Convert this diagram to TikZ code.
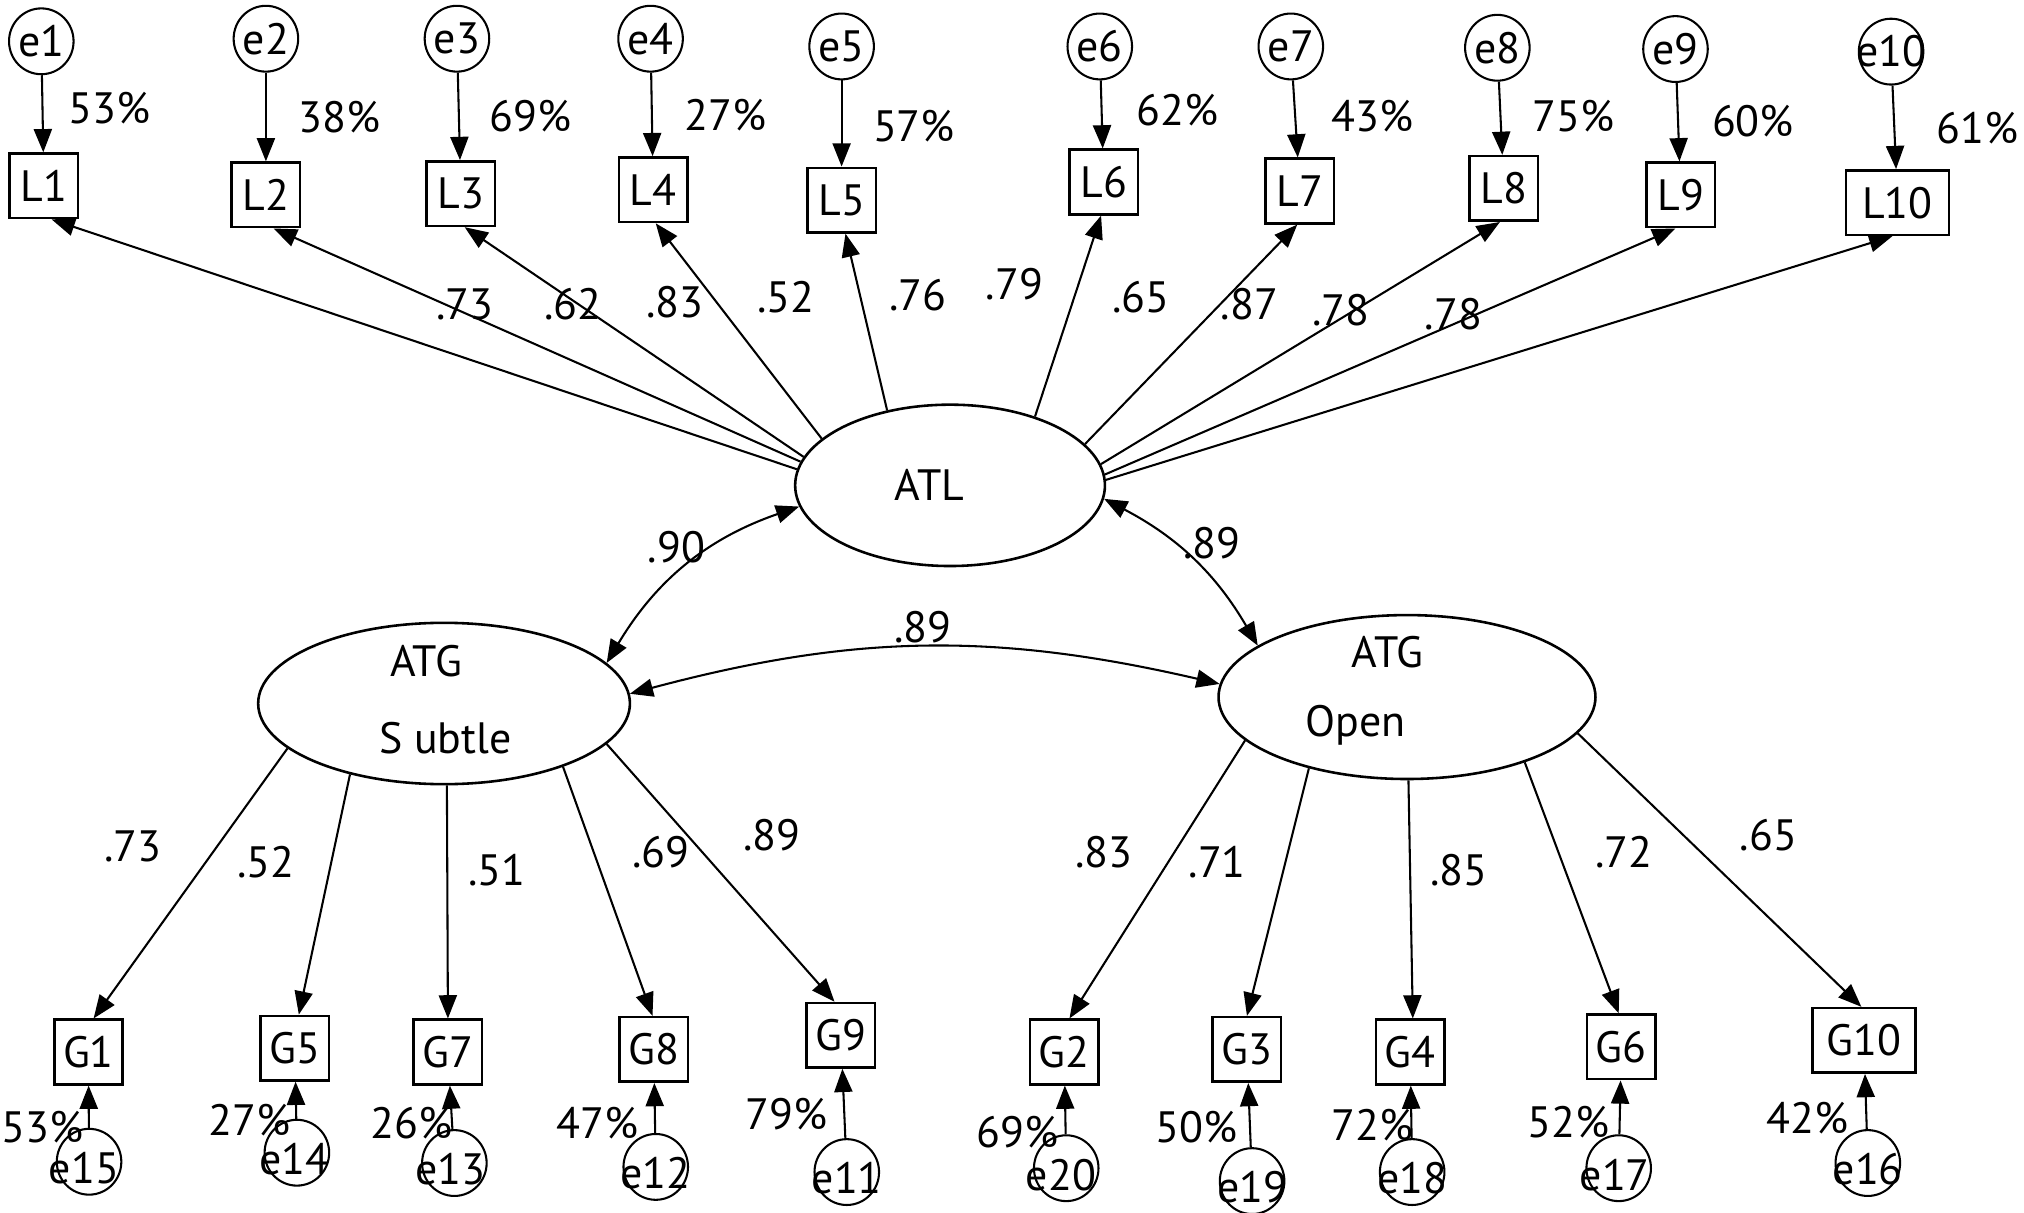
\documentclass[tikz,border=0pt]{standalone}
\usepackage{fontspec}
\setmainfont{PT Sans}
\usetikzlibrary{shapes.geometric,arrows.meta}
\tikzset{
 every node/.style={font=\fontsize{34}{40}\selectfont},
 obs/.style={draw, line width=2pt, minimum width=53pt, minimum height=50pt, inner sep=0pt},
 obsw/.style={obs, minimum width=80pt},
 err/.style={draw, ellipse, line width=1.6pt, minimum width=50pt, minimum height=51pt, inner sep=0pt},
 lat/.style={draw, ellipse, line width=2pt, inner sep=0pt},
 txt/.style={inner sep=0pt},
 arr/.style={line width=1.6pt, -{Triangle[length=18pt,width=14pt]}},
 dbl/.style={line width=1.6pt, {Triangle[length=18pt,width=14pt]}-{Triangle[length=18pt,width=14pt]}},
}
\begin{document}
\begin{tikzpicture}[x=1pt,y=1pt]
\fill[white] (0,0) rectangle (1568,-939);
\useasboundingbox (0,0) rectangle (1568,-939);

% latent variables
\node[lat, minimum width=240pt, minimum height=125pt] (ATL) at (736,-376) {};
\node[txt] (ATLt) at (720,-376) {ATL};
\node[lat, minimum width=288pt, minimum height=125pt] (Sub) at (344,-545) {};
\node[txt] (Subt1) at (330,-512) {ATG};
\node[txt] (Subt2) at (345,-572) {S ubtle};
\node[lat, minimum width=292pt, minimum height=127pt] (Open) at (1090,-540) {};
\node[txt] (Opent1) at (1075,-505) {ATG};
\node[txt] (Opent2) at (1050,-562) {Open};

% top observed
\node[obs] (L1) at (34,-144) {L1};
\node[obs] (L2) at (206,-151) {L2};
\node[obs] (L3) at (357,-150) {L3};
\node[obs] (L4) at (506,-147) {L4};
\node[obs] (L5) at (652,-155) {L5};
\node[obs] (L6) at (855,-141) {L6};
\node[obs] (L7) at (1007,-148) {L7};
\node[obs] (L8) at (1165,-146) {L8};
\node[obs] (L9) at (1302,-151) {L9};
\node[obsw] (L10) at (1470,-157) {L10};

% top errors
\node[err, label={[txt]center:e1}] (e1) at (32,-32) {};
\node[err, label={[txt]center:e2}] (e2) at (206,-30) {};
\node[err, label={[txt]center:e3}] (e3) at (354,-30) {};
\node[err, label={[txt]center:e4}] (e4) at (504,-30) {};
\node[err, label={[txt]center:e5}] (e5) at (652,-36) {};
\node[err, label={[txt]center:e6}] (e6) at (852,-36) {};
\node[err, label={[txt]center:e7}] (e7) at (1000,-36) {};
\node[err, label={[txt]center:e8}] (e8) at (1160,-37) {};
\node[err, label={[txt]center:e9}] (e9) at (1298,-38) {};
\node[err, label={[txt]center:e10}] (e10) at (1465,-40) {};

\foreach \i in {1,...,10} \draw[arr] (e\i) -- (L\i);

% top percents
\node[txt] (p1) at (85,-84) {53\%};
\node[txt] (p2) at (263,-91) {38\%};
\node[txt] (p3) at (411,-90) {69\%};
\node[txt] (p4) at (562,-89) {27\%};
\node[txt] (p5) at (708,-98) {57\%};
\node[txt] (p6) at (912,-85) {62\%};
\node[txt] (p7) at (1063,-90) {43\%};
\node[txt] (p8) at (1219,-90) {75\%};
\node[txt] (p9) at (1358,-94) {60\%};
\node[txt] (p10) at (1532,-99) {61\%};

% ATL loadings
\draw[arr] (ATL.174.5) -- ([xshift=6pt]L1.south);
\draw[arr] (ATL.171.9) -- ([xshift=6pt]L2.south);
\draw[arr] (ATL.169.4) -- ([xshift=3pt]L3.south);
\draw[arr] (ATL.160.2) -- ([xshift=2pt]L4.south);
\draw[arr] (ATL.130) -- ([xshift=3pt]L5.south);
\draw[arr] (ATL.39.3) -- ([xshift=-2pt]L6.south);
\draw[arr] (ATL.17.3) -- ([xshift=-2pt]L7.south);
\draw[arr] (ATL.8.7) -- ([xshift=-3pt]L8.south);
\draw[arr] (ATL.4.8) -- ([xshift=-4pt]L9.south);
\draw[arr] (ATL.2.8) -- ([xshift=-4pt]L10.south);

\node[txt] (a2) at (360,-236) {.73};
\node[txt] (a3) at (444,-236) {.62};
\node[txt] (a4) at (523,-234) {.83};
\node[txt] (a5) at (609,-230) {.52};
\node[txt] (a6) at (711,-229) {.76};
\node[txt] (a7) at (786,-220) {.79};
\node[txt] (a8) at (884,-230) {.65};
\node[txt] (a9) at (968,-236) {.87};
\node[txt] (a10) at (1039,-240) {.78};
\node[txt] (a11) at (1126,-243) {.78};

% correlations
\draw[dbl] (ATL.188) to[bend right=20] (Sub.14);
\draw[dbl] (ATL.355) to[bend left=16] (Open.161);
\draw[dbl] (Sub.3) to[bend left=14] (Open.176);
\node[txt] (c1) at (524,-424) {.90};
\node[txt] (c2) at (939,-421) {.89};
\node[txt] (c3) at (715,-486) {.89};

% bottom observed
\node[obs] (G1) at (68.5,-815) {G1};
\node[obs] (G5) at (228.5,-812) {G5};
\node[obs] (G7) at (347,-815) {G7};
\node[obs] (G8) at (506.5,-813) {G8};
\node[obs] (G9) at (651.5,-802) {G9};
\node[obs] (G2) at (824.5,-815) {G2};
\node[obs] (G3) at (966,-813) {G3};
\node[obs] (G4) at (1092.5,-815) {G4};
\node[obs] (G6) at (1256,-811) {G6};
\node[obsw] (G10) at (1444,-806) {G10};

% bottom errors
\node[err, label={[txt,yshift=-5pt,xshift=-4pt]center:e15}] (e15) at (69,-900) {};
\node[err, label={[txt,yshift=-5pt,xshift=-2pt]center:e14}] (e14) at (230,-893) {};
\node[err, label={[txt,yshift=-5pt,xshift=-3pt]center:e13}] (e13) at (352,-901) {};
\node[err, label={[txt,yshift=-5pt]center:e12}] (e12) at (508,-904) {};
\node[err, label={[txt,yshift=-5pt]center:e11}] (e11) at (656,-908) {};
\node[err, label={[txt,yshift=-5pt,xshift=-4pt]center:e20}] (e20) at (826,-905) {};
\node[err, label={[txt,yshift=-5pt]center:e19}] (e19) at (970,-915) {};
\node[err, label={[txt,yshift=-5pt]center:e18}] (e18) at (1094,-908) {};
\node[err, label={[txt,yshift=-5pt,xshift=-3pt]center:e17}] (e17) at (1254,-905) {};
\node[err, label={[txt,yshift=-5pt]center:e16}] (e16) at (1447,-901) {};

\draw[arr] (e15) -- (G1);
\draw[arr] (e14) -- (G5);
\draw[arr] (e13) -- (G7);
\draw[arr] (e12) -- (G8);
\draw[arr] (e11) -- (G9);
\draw[arr] (e20) -- (G2);
\draw[arr] (e19) -- (G3);
\draw[arr] (e18) -- (G4);
\draw[arr] (e17) -- (G6);
\draw[arr] (e16) -- (G10);

% bottom percents
\node[txt] (q15) at (33,-873) {53\%};
\node[txt] (q14) at (193,-868) {27\%};
\node[txt] (q13) at (319,-870) {26\%};
\node[txt] (q12) at (463,-870) {47\%};
\node[txt] (q11) at (609,-863) {79\%};
\node[txt] (q20) at (788,-877) {69\%};
\node[txt] (q19) at (927,-873) {50\%};
\node[txt] (q18) at (1063,-872) {72\%};
\node[txt] (q17) at (1215,-869) {52\%};
\node[txt] (q16) at (1400,-866) {42\%};

% subtle loadings
\draw[arr] (Sub.196) -- ([xshift=4pt]G1.north);
\draw[arr] (Sub.217) -- ([xshift=3pt]G5.north);
\draw[arr] (Sub.272) -- (G7.north);
\draw[arr] (Sub.332) -- ([xshift=-1pt]G8.north);
\draw[arr] (Sub.346.5) -- ([xshift=-5pt]G9.north);
\node[txt] (b1) at (103,-656) {.73};
\node[txt] (b5) at (206,-668) {.52};
\node[txt] (b7) at (385,-674) {.51};
\node[txt] (b8) at (512,-660) {.69};
\node[txt] (b9) at (598,-647) {.89};

% open loadings
\draw[arr] (Open.195.6) -- ([xshift=4pt]G2.north);
\draw[arr] (Open.216.6) -- (G3.north);
\draw[arr] (Open.271) -- ([xshift=2pt]G4.north);
\draw[arr] (Open.331.5) -- ([xshift=-2pt]G6.north);
\draw[arr] (Open.348) -- ([xshift=-2pt]G10.north);
\node[txt] (o2) at (855,-660) {.83};
\node[txt] (o3) at (943,-668) {.71};
\node[txt] (o4) at (1130,-674) {.85};
\node[txt] (o6) at (1258,-660) {.72};
\node[txt] (o10) at (1370,-647) {.65};
\end{tikzpicture}
\end{document}
